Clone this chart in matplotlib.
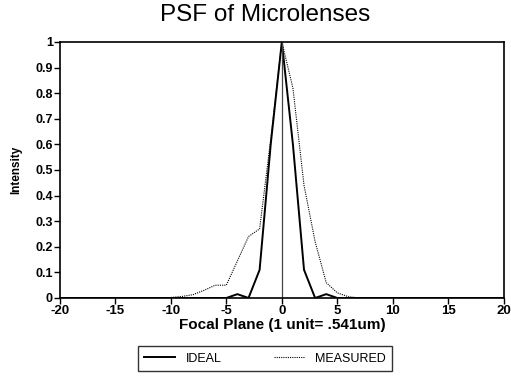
import matplotlib
matplotlib.use("Agg")
import matplotlib.pyplot as plt
import numpy as np

plt.rcParams['font.family'] = ['Liberation Sans', 'DejaVu Sans']

# focal plane positions (1 unit = .541 um)
positions = list(range(-20, 21))

ideal = [0, 0, 0, 0, 0, 0, 0, 0, 0, 0,          # -20 .. -11
         0, 0, 0, 0, 0,                          # -10 .. -6
         0, 0.015, 0, 0.11, 0.6,                 # -5 .. -1
         1.0,                                    # 0
         0.6, 0.11, 0, 0.015, 0,                 # 1 .. 5
         0, 0, 0, 0, 0,                          # 6 .. 10
         0, 0, 0, 0, 0, 0, 0, 0, 0, 0]           # 11 .. 20

measured = [0, 0, 0, 0, 0, 0, 0, 0, 0, 0,        # -20 .. -11
            0.002, 0.006, 0.013, 0.03, 0.05,     # -10 .. -6
            0.05, 0.145, 0.24, 0.27, 0.62,       # -5 .. -1
            1.0,                                 # 0
            0.82, 0.44, 0.22, 0.06, 0.02,        # 1 .. 5
            0.005, 0, 0, 0, 0,                   # 6 .. 10
            0, 0, 0, 0, 0, 0, 0, 0, 0, 0]        # 11 .. 20

x_ticks = [-20, -15, -10, -5, 0, 5, 10, 15, 20]
y_ticks = [0, 0.1, 0.2, 0.3, 0.4, 0.5, 0.6, 0.7, 0.8, 0.9, 1]
y_labels = ["0", "0.1", "0.2", "0.3", "0.4", "0.5", "0.6", "0.7", "0.8", "0.9", "1"]

fig = plt.figure(figsize=(5.11, 3.85), dpi=100)
ax = fig.add_axes([0.117, 0.226, 0.869, 0.665])

ax.plot(positions, ideal, color='black', lw=1.4, label='IDEAL')
ax.plot(positions, measured, color='black', lw=0.8, linestyle=(0, (1, 1)),
        label='MEASURED')
ax.axvline(0, color='#444444', lw=0.9)

ax.set_xlim(-20, 20)
ax.set_ylim(0, 1)
ax.set_xticks(x_ticks)
ax.set_xticklabels([str(t) for t in x_ticks])
ax.set_yticks(y_ticks)
ax.set_yticklabels(y_labels)
ax.tick_params(direction='out', length=4, width=1, labelsize=9, pad=1)
ax.tick_params(axis='x', labelsize=9.5)
for lbl in ax.get_xticklabels() + ax.get_yticklabels():
    lbl.set_fontweight('bold')
for sp in ax.spines.values():
    sp.set_linewidth(1.2)

fig.suptitle("PSF of Microlenses", fontsize=17.5, x=0.519, y=0.99, va='top')
ax.set_xlabel("Focal Plane (1 unit= .541um)", fontsize=11, fontweight='bold',
              labelpad=1)
ax.set_ylabel("Intensity", fontsize=8.5, fontweight='bold', labelpad=9)

leg = ax.legend(loc='upper center', bbox_to_anchor=(0.462, -0.165), ncol=2,
                frameon=True, fancybox=False, edgecolor='black', fontsize=9,
                handlelength=2.5, columnspacing=4.2, borderpad=0.5)
leg.get_frame().set_linewidth(1.0)

fig.savefig("out.png", dpi=100)
